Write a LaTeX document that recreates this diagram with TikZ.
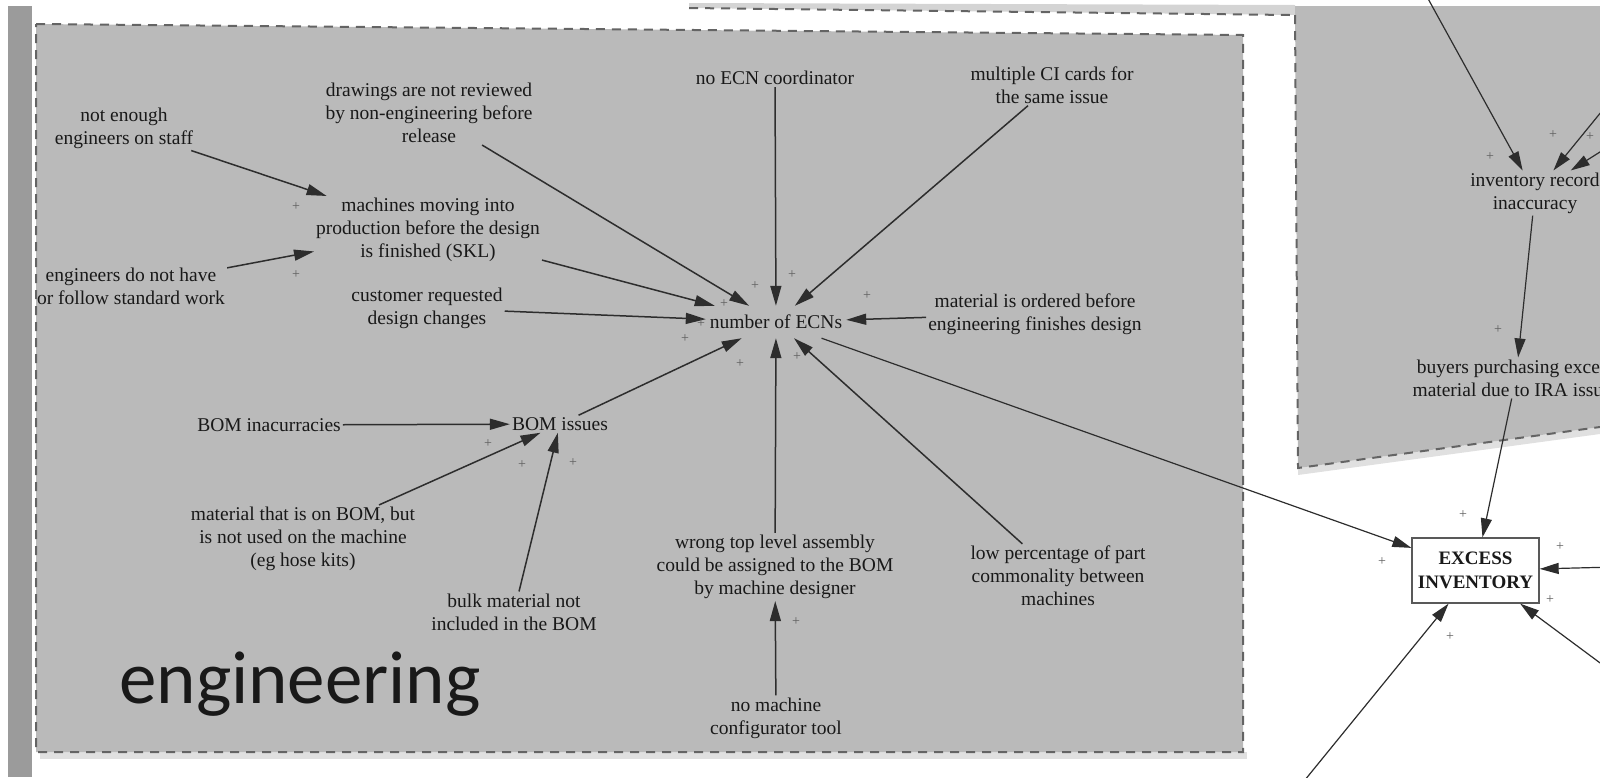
\documentclass[tikz,border=0pt]{standalone}
\usepackage{fontspec}
\setmainfont{Liberation Serif}
\newfontfamily\slidefont{Carlito}
\usetikzlibrary{arrows.meta}
\definecolor{panelgray}{RGB}{186,186,186}
\definecolor{stripgray}{RGB}{155,155,155}
\definecolor{bandgray}{RGB}{212,212,212}
\definecolor{edgegray}{RGB}{100,100,100}
\definecolor{ink}{RGB}{25,25,25}
\definecolor{wire}{RGB}{45,45,45}
\definecolor{signgray}{RGB}{95,95,95}

\begin{document}
\begin{tikzpicture}[x=1pt,y=-1pt,
  lbl/.style={align=center, font=\fontsize{19.5}{23}\selectfont, text=ink, inner sep=2pt},
  link/.style={draw=wire, line width=1.5pt, -{Triangle[length=20pt,width=11pt]}},
  thinlink/.style={draw=wire, line width=1.2pt, -{Triangle[length=19pt,width=11pt]}},
  pol/.style={font=\fontsize{14}{14}\selectfont, text=signgray, inner sep=0pt},
  paneledge/.style={draw=edgegray, line width=2pt, dash pattern=on 9pt off 7pt}]

\useasboundingbox (0,0) rectangle (1600,777);
\clip (0,0) rectangle (1600,777);

% soft shadows under the panels
\fill[black!12] (40,752) -- (1247,752) -- (1247,759) -- (40,759) -- cycle;
\fill[black!12] (1298,468) -- (1600,427) -- (1600,434) -- (1298,475) -- cycle;

% side strip on the left
\fill[stripgray] (8,6) rectangle (32,777);

% band above the engineering panel
\fill[bandgray] (689,3) -- (1295,5) -- (1295,15) -- (689,8) -- cycle;
\draw[paneledge] (689,8) -- (1290,15);

% panel on the right
\fill[panelgray] (1295,6) -- (1600,6) -- (1600,427) -- (1298,468) -- cycle;
\draw[paneledge] (1295,15) -- (1298,468) -- (1600,427);

% engineering panel
\fill[panelgray] (36,24) -- (1243,35) -- (1243,752) -- (36,752) -- cycle;
\draw[paneledge] (36,24) -- (1243,35) -- (1243,752) -- (36,752) -- cycle;

% variables of the engineering panel
\node[lbl] (staff) at (124,128) {not enough\\engineers on staff};
\node[lbl] (stdwork) at (131,286) {engineers do not have\\or follow standard work};
\node[lbl] (machines) at (428,230) {machines moving into\\production before the design\\is finished (SKL)};
\node[lbl] (drawings) at (429,113) {drawings are not reviewed\\by non-engineering before\\release};
\node[lbl] (customer) at (427,308) {customer requested\\design changes};
\node[lbl] (coord) at (775,78) {no ECN coordinator};
\node[lbl] (cicards) at (1052,85) {multiple CI cards for\\the same issue};
\node[lbl, minimum width=140pt, minimum height=32pt] (hub) at (776,322) {number of ECNs};
\node[lbl] (ordered) at (1035,314) {material is ordered before\\engineering finishes design};
\node[lbl] (bominacc) at (269,425) {BOM inacurracies};
\node[lbl] (bomissues) at (560,424) {BOM issues};
\node[lbl] (onbom) at (303,539) {material that is on BOM, but\\is not used on the machine\\(eg hose kits)};
\node[lbl] (bulk) at (514,612) {bulk material not\\included in the BOM};
\node[lbl] (toplevel) at (775,567) {wrong top level assembly\\could be assigned to the BOM\\by machine designer};
\node[lbl] (commonality) at (1058,576) {low percentage of part\\commonality between\\machines};
\node[lbl] (configurator) at (776,718) {no machine\\configurator tool};
\node[anchor=base, font=\slidefont\fontsize{75}{80}\selectfont, text=black!90, inner sep=0pt] (title) at (300,703) {engineering};

% variables on the right
\node[lbl] (records) at (1535,193) {inventory record\\inaccuracy};
\node[lbl] (buyers) at (1516,378) {buyers purchasing excess\\material due to IRA issues};
\node[draw=black!65, line width=1.3pt, fill=white, minimum width=127pt, minimum height=65pt,
      align=center, inner sep=0pt, text=ink, font=\bfseries\fontsize{19}{24}\selectfont]
      (excess) at (1475.5,570.5) {EXCESS\\INVENTORY};

% loose ends of links coming from outside the view
\coordinate (inTop) at (1426,-5);
\coordinate (inRightA) at (1615,95);
\coordinate (inRightB) at (1615,142.5);
\coordinate (exRight) at (1615,567);
\coordinate (exLowRight) at (1615,674);
\coordinate (exLowLeft) at (1300,786);

% links
\draw[link] (staff) -- (machines);
\draw[link] (stdwork) -- (machines);
\draw[link] (drawings) -- (hub);
\draw[link] (machines) -- (hub);
\draw[link] (customer) -- (hub);
\draw[link] (coord) -- (hub);
\draw[link] (cicards) -- (hub);
\draw[link] (ordered) -- (hub);
\draw[link] (bomissues) -- (hub);
\draw[link] (toplevel) -- (hub);
\draw[link] (commonality) -- (hub);
\draw[link] (bominacc) -- (bomissues);
\draw[link] (onbom) -- (bomissues);
\draw[link] (bulk) -- (bomissues);
\draw[link] (configurator) -- (toplevel);
\draw[thinlink] (hub) -- (excess);

\draw[thinlink] (inTop) -- (records);
\draw[thinlink] (inRightA) -- (records);
\draw[thinlink] (inRightB) -- (records);
\draw[thinlink] (records) -- (buyers);
\draw[thinlink] (buyers) -- (excess);
\draw[thinlink] (exRight) -- (excess);
\draw[thinlink] (exLowRight) -- (excess);
\draw[thinlink] (exLowLeft) -- (excess);

% polarity signs
\node[pol] (s1) at (296,207) {+};
\node[pol] (s2) at (296,275) {+};
\node[pol] (s3) at (792,275) {+};
\node[pol] (s4) at (755,286) {+};
\node[pol] (s5) at (867,296) {+};
\node[pol] (s6) at (724,304) {+};
\node[pol] (s7) at (701,324) {+};
\node[pol] (s8) at (685,339) {+};
\node[pol] (s9) at (740,364) {+};
\node[pol] (s10) at (797,357) {+};
\node[pol] (s11) at (488,444) {+};
\node[pol] (s12) at (522,465) {+};
\node[pol] (s13) at (573,463) {+};
\node[pol] (s14) at (796,622) {+};
\node[pol] (s15) at (1490,157) {+};
\node[pol] (s16) at (1553,135) {+};
\node[pol] (s17) at (1590,137) {+};
\node[pol] (s18) at (1498,330) {+};
\node[pol] (s19) at (1463,515) {+};
\node[pol] (s20) at (1382,562) {+};
\node[pol] (s21) at (1560,547) {+};
\node[pol] (s22) at (1550,600) {+};
\node[pol] (s23) at (1450,637) {+};
\end{tikzpicture}
\end{document}
